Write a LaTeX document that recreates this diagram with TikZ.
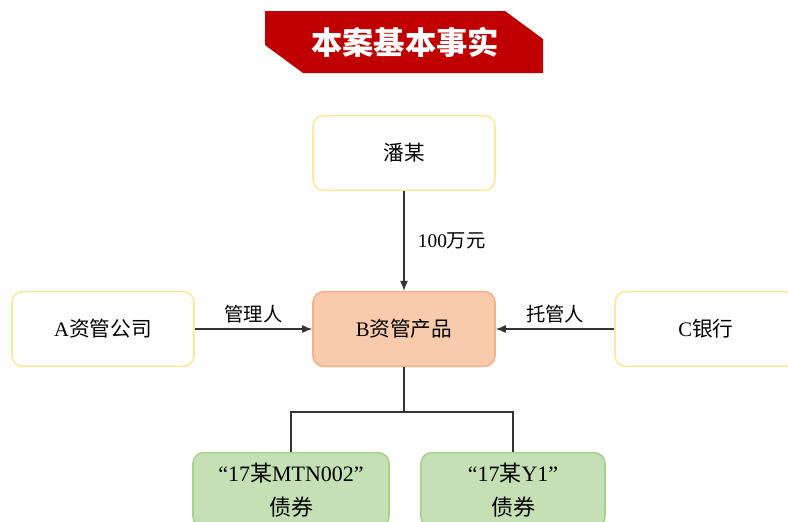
\documentclass[tikz,border=0pt]{standalone}
\usepackage{fontspec}
\setmainfont{Liberation Serif}
\newfontfamily\cjk{Noto Sans CJK SC}
\usetikzlibrary{arrows.meta}
\definecolor{titlered}{HTML}{C00000}
\definecolor{ylwborder}{HTML}{FFE699}
\definecolor{orgfill}{HTML}{F8CBAD}
\definecolor{orgborder}{HTML}{F4B183}
\definecolor{grnfill}{HTML}{C5E0B4}
\definecolor{grnborder}{HTML}{A9D18E}
\definecolor{linegray}{HTML}{333333}
\tikzset{
  box/.style={draw=ylwborder, line width=1.2pt, fill=white, rounded corners=8pt,
    minimum width=136.5pt, minimum height=56pt, inner sep=0pt, align=center,
    font=\fontsize{15.5}{25}\selectfont},
  mainbox/.style={box, draw=orgborder, fill=orgfill},
  bondbox/.style={box, draw=grnborder, fill=grnfill, font=\fontsize{16.5}{25}\selectfont},
  conn/.style={draw=linegray, line width=0.9pt},
  arr/.style={conn, -{Latex[length=7.5pt,width=6pt]}},
  lbl/.style={font=\fontsize{14.5}{16}\selectfont, inner sep=1pt}
}
\begin{document}
\begin{tikzpicture}[x=0.75pt,y=-0.75pt]
\useasboundingbox (0,0) rectangle (788,521);
\clip (0,0) rectangle (788,521);
% title banner
\fill[titlered] (265,11) -- (505,11) -- (543,39) -- (543,73) -- (303,73) -- (265,45) -- cycle;
\node[text=white, font=\cjk\bfseries\fontsize{23.5}{26}\selectfont] (title) at (405,42) {本案基本事实};
% nodes
\node[box] (pan) at (404,153) {{\cjk 潘某}};
\node[box] (a) at (103,329) {A{\cjk 资管公司}};
\node[mainbox] (b) at (404,329) {B{\cjk 资管产品}};
\node[box] (c) at (706,329) {C{\cjk 银行}};
\node[bondbox, minimum width=147pt] (d1) at (291,490) {“17{\cjk 某}MTN002”\\{\cjk 债券}};
\node[bondbox, minimum width=138pt] (d2) at (513,490) {“17{\cjk 某}Y1”\\{\cjk 债券}};
\coordinate (fork) at (404,412);
% connectors
\draw[arr] (pan) -- node[lbl, right=9pt, pos=0.5] {100{\cjk 万元}} (b);
\draw[arr] (a) -- node[lbl, above=3pt] {{\cjk 管理人}} (b);
\draw[arr] (c) -- node[lbl, above=3pt] {{\cjk 托管人}} (b);
\draw[conn] (b.south) -- (fork) -| (d1.north);
\draw[conn] (fork) -| (d2.north);
\end{tikzpicture}
\end{document}
